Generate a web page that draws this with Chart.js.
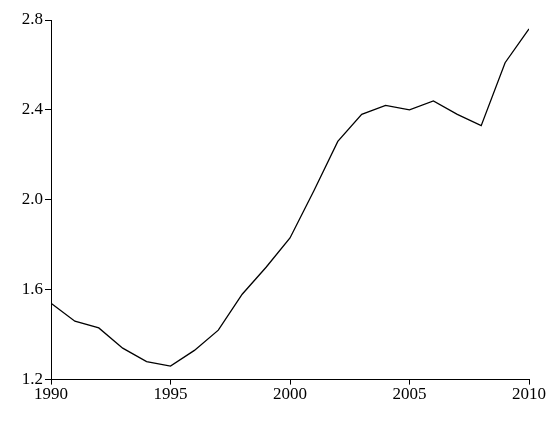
<!DOCTYPE html>
<html><head><meta charset="utf-8">
<script src="https://cdn.jsdelivr.net/npm/chart.js@4"></script>
<style>html,body{margin:0;background:#fff}#wrap{width:554px;height:421px}</style>
</head><body><div id="wrap"><canvas id="c"></canvas></div>
<script>
const years = [1990,1991,1992,1993,1994,1995,1996,1997,1998,1999,2000,2001,2002,2003,2004,2005,2006,2007,2008,2009,2010];
const values = [1.54,1.46,1.43,1.34,1.28,1.26,1.33,1.42,1.58,1.70,1.83,2.04,2.26,2.38,2.42,2.40,2.44,2.38,2.33,2.61,2.76];
const yTicks = [1.2,1.6,2.0,2.4,2.8];

Chart.defaults.font.family = '"Liberation Serif", serif';
Chart.defaults.font.size = 17;
Chart.defaults.color = '#000';

new Chart(document.getElementById('c'), {
  type: 'line',
  data: {
    datasets: [{
      data: years.map((y, i) => ({ x: y, y: values[i] })),
      borderColor: '#000', borderWidth: 1.3, pointRadius: 0, tension: 0,
    }],
  },
  options: {
    responsive: true, maintainAspectRatio: false, animation: false,
    layout: { padding: { top: 20, right: 25, bottom: 16, left: 0 } },
    plugins: { legend: { display: false }, tooltip: { enabled: false } },
    scales: {
      x: {
        type: 'linear', min: 1990, max: 2010,
        border: { color: '#000', width: 1 },
        grid: { display: true, drawOnChartArea: false, color: '#000', tickLength: 5 },
        ticks: { stepSize: 5, maxRotation: 0, padding: 0, callback: (v) => String(v) },
      },
      y: {
        min: 1.2, max: 2.8,
        afterFit: (s) => { s.width = 51; },
        afterBuildTicks: (s) => { s.ticks = yTicks.map((v) => ({ value: v })); },
        border: { color: '#000', width: 1 },
        grid: { display: true, drawOnChartArea: false, color: '#000', tickLength: 6 },
        ticks: { padding: 2, callback: (v) => v.toFixed(1) },
      },
    },
  },
});
</script></body></html>
